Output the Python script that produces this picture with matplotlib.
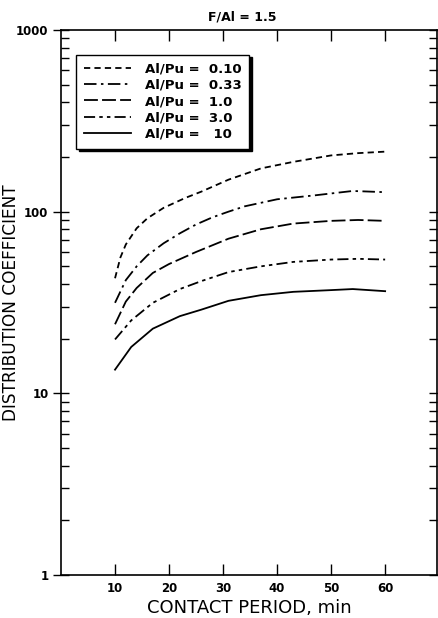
import matplotlib
matplotlib.use("Agg")
import matplotlib.pyplot as plt
from matplotlib.ticker import LogLocator, NullFormatter, FixedLocator

plt.rcParams['font.family'] = ['DejaVu Sans']
plt.rcParams['lines.scale_dashes'] = False

# Data
labels = ["Al/Pu =  0.10", "Al/Pu =  0.33", "Al/Pu =  1.0", "Al/Pu =  3.0", "Al/Pu =   10"]

t_010 = [10, 11, 12, 14, 16, 19, 23, 26, 31, 37, 43, 50, 55, 60]
d_010 = [43, 56, 66, 81, 92, 105, 119, 129, 150, 173, 188, 204, 210, 214]

t_033 = [10, 12, 14, 16, 19, 22, 25, 28, 31, 34, 40, 47, 54, 60]
d_033 = [31.5, 42, 50, 57.5, 67, 76, 85, 93, 100, 107, 117, 123, 130, 128]

t_10 = [10, 12, 14, 17, 20, 25, 31, 37, 43, 50, 55, 60]
d_10 = [24, 32, 38, 46, 51.5, 60, 71, 80, 86, 89, 90, 89]

t_30 = [10, 13, 17, 22, 26, 31, 37, 43, 50, 55, 60]
d_30 = [19.8, 25.2, 31.5, 37.5, 41.5, 46.5, 50, 52.9, 54.5, 55, 54.5]

t_100 = [10, 13, 17, 22, 26, 31, 37, 43, 50, 54, 60]
d_100 = [13.5, 18, 22.7, 26.6, 28.9, 32.3, 34.7, 36.2, 37, 37.5, 36.5]

x_ticks = [10, 20, 30, 40, 50, 60]
y_ticks = [1, 10, 100, 1000]

fig = plt.figure(figsize=(4.39, 6.18), dpi=100)
ax = fig.add_axes([61/439, 1-575/618, (437-61)/439, (575-30)/618])

lw = 1.3
ax.plot(t_010, d_010, color='k', lw=lw, dashes=(4.5, 3.0), label=labels[0])
ax.plot(t_033, d_033, color='k', lw=lw, dashes=(9, 3.2, 1.8, 3.2), label=labels[1])
ax.plot(t_10, d_10, color='k', lw=lw, dashes=(10, 3), label=labels[2])
ax.plot(t_30, d_30, color='k', lw=lw, dashes=(8, 3, 2.5, 3, 2.5, 3), label=labels[3])
ax.plot(t_100, d_100, color='k', lw=lw, label=labels[4])

ax.set_yscale('log')
ax.set_xlim(0, 69.6)
ax.set_ylim(1, 1000)

ax.xaxis.set_major_locator(FixedLocator(x_ticks))
ax.set_xticklabels([str(v) for v in x_ticks], fontweight='bold', fontsize=8.5)
ax.yaxis.set_major_locator(FixedLocator(y_ticks))
ax.set_yticklabels([str(v) for v in y_ticks], fontweight='bold', fontsize=8.5)
ax.yaxis.set_minor_locator(LogLocator(base=10, subs=range(2, 10)))
ax.yaxis.set_minor_formatter(NullFormatter())

ax.tick_params(axis='x', which='major', direction='in', length=8, width=1,
               top=True, pad=5)
ax.tick_params(axis='y', which='major', direction='inout', length=12, width=1,
               left=True, right=True, pad=3)
ax.tick_params(axis='y', which='minor', direction='in', length=6, width=1,
               left=True, right=True)
for s in ax.spines.values():
    s.set_linewidth(1.2)

ax.set_xlabel("CONTACT PERIOD, min", fontsize=13, labelpad=3)
ax.set_ylabel("DISTRIBUTION COEFFICIENT", fontsize=12.2)
ax.yaxis.set_label_coords(-0.108, 0.5)
ax.text(0.481, 1.012, "F/Al = 1.5", transform=ax.transAxes, ha='center',
        va='bottom', fontsize=9, fontweight='bold')

leg = ax.legend(loc='upper left', bbox_to_anchor=(0.04, 0.955), frameon=True,
                fancybox=False, shadow={'color': 'k', 'alpha': 1},
                edgecolor='k', framealpha=1, handlelength=3.6,
                prop={'weight': 'bold', 'size': 9.5}, borderpad=0.6,
                labelspacing=0.25, handletextpad=1.0, borderaxespad=0)
leg.get_frame().set_linewidth(1.0)

fig.savefig("out.png", dpi=100)
